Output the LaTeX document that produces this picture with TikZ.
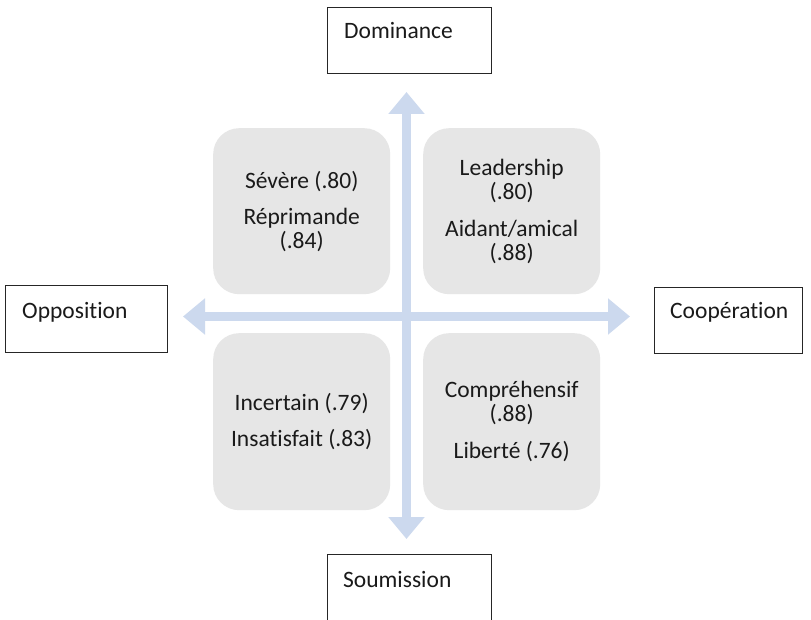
\documentclass[tikz,border=0pt]{standalone}
\usepackage{fontspec}
\setmainfont{Carlito}[Ligatures={NoCommon}]
\usetikzlibrary{arrows.meta,calc}
\definecolor{axisblue}{HTML}{CCD9EE}
\definecolor{quadgray}{HTML}{E6E6E6}
\definecolor{txt}{HTML}{1A1A1A}
\begin{document}
\begin{tikzpicture}[x=1pt,y=-1pt,
  quad/.style={draw=none,fill=quadgray,rounded corners=26pt,minimum width=177pt,
    inner sep=0pt,align=center,text=txt,font=\fontsize{23.5}{24}\selectfont,anchor=north west},
  outerbox/.style={draw=black!85,line width=1.3pt,fill=white,minimum width=164pt,
    minimum height=66pt,inner sep=0pt,anchor=north west},
  outerlabel/.style={anchor=base west,inner sep=0pt,text=txt,font=\fontsize{23.5}{24}\selectfont},
  axis/.style={draw=axisblue,line width=9pt,{Triangle[width=35pt,length=22pt]}-{Triangle[width=35pt,length=22pt]}}]
\clip (0,0) rectangle (811,620);
\fill[white] (0,0) rectangle (811,620);
% quadrants
\node[quad,minimum height=166pt] (tl) at (213,128) {Sévère (.80)\\[12pt]Réprimande\\(.84)};
\node[quad,minimum height=166pt] (tr) at (423,128) {Leadership\\(.80)\\[13pt]Aidant/amical\\(.88)};
\node[quad,minimum height=177pt] (bl) at (213,333) {Incertain (.79)\\[12pt]Insatisfait (.83)};
\node[quad,minimum height=177pt] (br) at (423,333) {Compréhensif\\(.88)\\[13pt]Liberté (.76)};
% axes
\coordinate (up) at (406.5,92);
\coordinate (down) at (406.5,539);
\coordinate (left) at (183,316.5);
\coordinate (right) at (630,316.5);
\draw[axis] (down) -- (up);
\draw[axis] (left) -- (right);
% outer boxes
\node[outerbox] (dom) at (327,7) {};
\node[outerlabel] (domt) at ($(dom.north west)+(17,32)$) {Dominance};
\node[outerbox,minimum width=162pt,minimum height=67pt] (opp) at (5,285) {};
\node[outerlabel] (oppt) at ($(opp.north west)+(17,33)$) {Opposition};
\node[outerbox,minimum width=148pt,minimum height=66pt] (coop) at (654,287) {};
\node[outerlabel] (coopt) at ($(coop.north west)+(16,32)$) {Coopération};
\node[outerbox,minimum height=90pt] (sou) at (327,554) {};
\node[outerlabel] (sout) at ($(sou.north west)+(16,33)$) {Soumission};
\end{tikzpicture}
\end{document}
